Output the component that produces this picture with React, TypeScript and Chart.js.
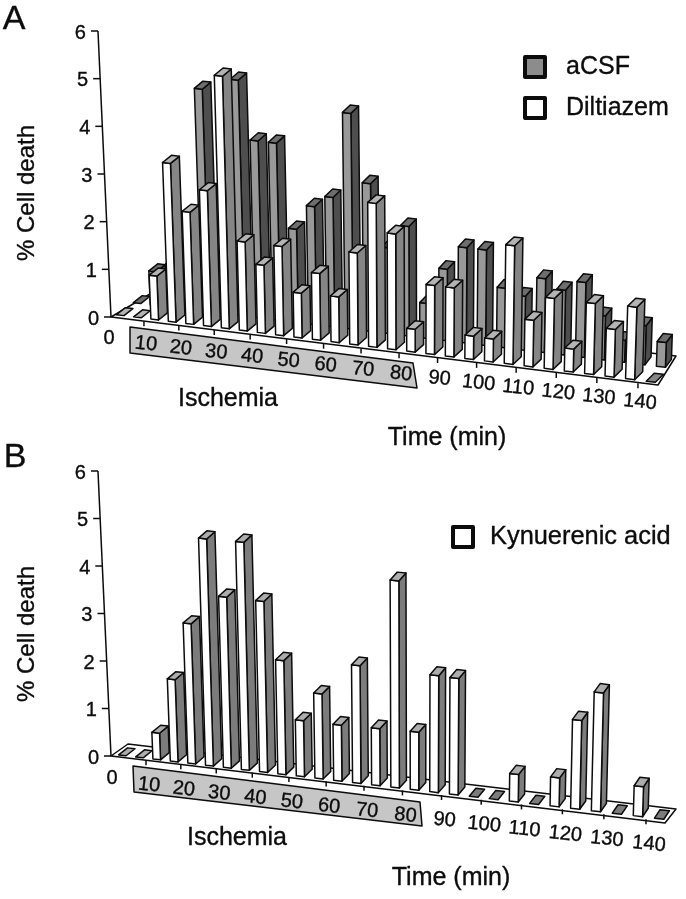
import React, { useEffect, useRef } from "react";
import { Chart, registerables, BarController } from "chart.js";

// ---------- data ----------
const SLOT_MINUTES = ["0","5","10","15","20","25","30","35","40","45","50","55","60","65","70","75","80","85","90","95","100","105","110","115","120","125","130","135","140"];
const ACSF = [0,0.71,0.9,1.6,4.67,2.4,4.95,3.72,3.72,1.96,2.48,2.72,4.53,3.1,1.8,2.3,0.73,1.5,2.0,2.0,1.25,1.13,1.55,1.36,1.57,0.92,0.46,0.82,0.52];
const DILTIAZEM = [0,0,0.92,3.33,2.35,2.85,5.3,1.87,1.43,1.87,0.94,1.4,0.96,1.93,3.02,2.43,0.48,1.45,1.45,0.49,0.48,2.49,0.98,1.49,0.48,1.49,1.0,1.52,0];
const KYNURENIC = [0,0,0.56,1.73,2.95,4.78,3.6,4.8,3.6,2.4,1.18,1.79,1.18,2.48,1.2,4.36,1.22,2.46,2.45,0,0,0.58,0,0.61,1.87,2.5,0,0.63,0];
const TIME_TICKS = [10,20,30,40,50,60,70,80,90,100,110,120,130,140];

const FONT = '"Liberation Sans", Arial, sans-serif';
const INK = "#0c0c0c";
const lerp = (a: number, b: number, t: number) => a + (b - a) * t;
const U_MAX = 14.5;

type Style = { front: string; side: string; top: string; ox: [number, number]; oy: [number, number]; sx: [number, number]; sy: [number, number] };

const PANEL_A = {
  letter: "A", letterPos: [14, 20],
  x0: 111, y0: 317, y6: 31, lean: [-2.17, 1.6], slope: 0.1255,
  a: 109.6, b: 34.1, c: 0.26,
  floor: [[111, 317], [150, 294], [676, 356], [658, 385]],
  band: [[130, 327], [413, 363], [417, 388], [130, 353]],
  labelDy: [23, 19], labelDx: 2, zero: [109, 338],
  ischemia: [228, 399], time: [447, 438], ylabel: [27, 193],
  legend: [
    { text: "aCSF", box: [523, 55], fill: "#8c8c8c", tx: 566, ty: 67, size: 25 },
    { text: "Diltiazem", box: [523, 96], fill: "#ffffff", tx: 566, ty: 108, size: 25 },
  ],
};
const PANEL_B = {
  letter: "B", letterPos: [15, 458],
  x0: 111, y0: 756, y6: 471, lean: [-2.17, 1.6], slope: 0.118,
  a: 111.8, b: 33.9, c: 0.304,
  floor: [[111, 756], [128, 744], [676, 809], [665, 823]],
  band: [[133, 766], [420, 802], [422, 826], [134, 792]],
  labelDy: [25, 25], labelDx: 3, zero: [112, 778],
  ischemia: [237, 838], time: [451, 878], ylabel: [27, 634],
  legend: [{ text: "Kynuerenic acid", box: [451, 525], fill: "#ffffff", tx: 490, ty: 537, size: 25.4 }],
};

const WHITE_A: Style = { front: "#ffffff", side: "#858585", top: "#b4b4b4", ox: [0, 0], oy: [-3, -3], sx: [9, 8], sy: [-7, -8] };
const GREY_A: Style = { front: "#999999", side: "#4e4e4e", top: "#6e6e6e", ox: [17, 10], oy: [-15, -18], sx: [9, 6], sy: [-7, -8] };
const WHITE_B: Style = { front: "#ffffff", side: "#7c7c7c", top: "#adadad", ox: [0, 0], oy: [-2, -2], sx: [9, 5.5], sy: [-7, -8.5] };

function project(p: any, u: number, heightPx: number, st: Style, depth: number) {
  const t = u / U_MAX;
  const bx = p.a + p.b * u + p.c * u * u;
  const by = p.y0 + p.slope * (bx - p.x0);
  const unit = (p.y0 - p.y6) / 6;
  const lean = lerp(p.lean[0], p.lean[1], t) * (heightPx / unit);
  return [
    bx + lerp(st.ox[0], st.ox[1], t) + lean + depth * lerp(st.sx[0], st.sx[1], t),
    by + lerp(st.oy[0], st.oy[1], t) - heightPx + depth * lerp(st.sy[0], st.sy[1], t),
  ];
}

function poly(ctx: CanvasRenderingContext2D, pts: number[][], fill: string | null, lw = 1.5) {
  ctx.beginPath();
  pts.forEach((q, i) => (i ? ctx.lineTo(q[0], q[1]) : ctx.moveTo(q[0], q[1])));
  ctx.closePath();
  if (fill) {
    ctx.fillStyle = fill;
    ctx.fill();
  }
  ctx.lineWidth = lw;
  ctx.strokeStyle = INK;
  ctx.lineJoin = "round";
  ctx.stroke();
}

class Bar3DController extends (BarController as any) {
  static id = "bar3d";
  draw() {
    const chart = (this as any).chart;
    const ctx = chart.ctx as CanvasRenderingContext2D;
    const meta = (this as any)._cachedMeta;
    const ds = chart.data.datasets[(this as any).index];
    const { panel, look } = ds;
    const area = chart.chartArea;
    const toU = (px: number) => ((px - area.left) / area.width) * U_MAX;
    meta.data.forEach((el: any) => {
      const uc = toU(el.x) + 0.06;
      const half = (el.width / area.width) * U_MAX * 0.5;
      const l = uc - half;
      const r = uc + half;
      const h = el.base - el.y;
      const fb = project(panel, l, 0, look, 0);
      const rb = project(panel, r, 0, look, 0);
      const ft = project(panel, l, h, look, 0);
      const rt = project(panel, r, h, look, 0);
      const rbb = project(panel, r, 0, look, 1);
      const rtb = project(panel, r, h, look, 1);
      const ftb = project(panel, l, h, look, 1);
      if (h > 0.5) {
        poly(ctx, [rb, rbb, rtb, rt], look.side);
        poly(ctx, [fb, rb, rt, ft], look.front);
        poly(ctx, [ft, rt, rtb, ftb], look.top);
      } else {
        // a zero value leaves only its flat footprint on the floor
        poly(ctx, [ft, rt, rtb, ftb], uc < 2 ? look.top : look.side);
      }
    });
  }
}

function framePlugin(p: any) {
  const text = (ctx: CanvasRenderingContext2D, s: string, x: number, y: number, size: number, rot = 0, align: CanvasTextAlign = "center") => {
    ctx.save();
    ctx.translate(x, y);
    ctx.rotate(rot);
    ctx.font = `${size}px ${FONT}`;
    ctx.fillStyle = INK;
    ctx.strokeStyle = INK;
    ctx.lineWidth = 0.35;
    ctx.textAlign = align;
    ctx.textBaseline = "middle";
    ctx.fillText(s, 0, 0);
    ctx.strokeText(s, 0, 0);
    ctx.restore();
  };
  return {
    id: "frame",
    beforeDatasetsDraw(chart: any) {
      const ctx = chart.ctx as CanvasRenderingContext2D;
      const { y: yS, time: tS } = chart.scales;
      const area = chart.chartArea;
      poly(ctx, p.floor, "#ffffff", 1.5);
      poly(ctx, p.band, "#c6c6c6", 1.5);

      // vertical axis, leaning with the scene
      const ax = (v: number) => p.x0 + p.lean[0] * v;
      ctx.strokeStyle = INK;
      ctx.lineWidth = 1.5;
      ctx.beginPath();
      ctx.moveTo(ax(0), yS.getPixelForValue(0));
      ctx.lineTo(ax(6), yS.getPixelForValue(6));
      ctx.stroke();
      yS.ticks.forEach((tk: any) => {
        const y = yS.getPixelForValue(tk.value);
        const x = ax(tk.value);
        ctx.strokeStyle = INK;
        ctx.lineWidth = 1.5;
        ctx.beginPath();
        ctx.moveTo(x - 7, y);
        ctx.lineTo(x, y);
        ctx.stroke();
        text(ctx, String(tk.value), x - 12, y + 2, 20, 0, "right");
      });

      // time ticks along the slanted front edge
      TIME_TICKS.forEach((m, i) => {
        const u = ((tS.getPixelForValue(m) - area.left) / area.width) * U_MAX;
        const x = p.a + p.b * u + p.c * u * u;
        const y = p.y0 + p.slope * (x - p.x0);
        ctx.strokeStyle = INK;
        ctx.lineWidth = 1.5;
        ctx.beginPath();
        ctx.moveTo(x, y);
        ctx.lineTo(x, y + 5);
        ctx.stroke();
        const dy = lerp(p.labelDy[0], p.labelDy[1], i / (TIME_TICKS.length - 1));
        text(ctx, String(m), x + p.labelDx, y + dy, 20, 0.1);
      });
      text(ctx, "0", p.zero[0], p.zero[1], 20);
      text(ctx, "Ischemia", p.ischemia[0], p.ischemia[1], 25);
      text(ctx, "Time (min)", p.time[0], p.time[1], 25);
      text(ctx, "% Cell death", p.ylabel[0], p.ylabel[1], 24, -Math.PI / 2);
      text(ctx, p.letter, p.letterPos[0], p.letterPos[1], 34);
      p.legend.forEach((it: any) => {
        ctx.fillStyle = it.fill;
        ctx.fillRect(it.box[0] + 2, it.box[1] + 2, 20, 20);
        ctx.strokeStyle = INK;
        ctx.lineWidth = 4;
        ctx.strokeRect(it.box[0] + 2, it.box[1] + 2, 20, 20);
        text(ctx, it.text, it.tx, it.ty, it.size, 0, "left");
      });
    },
  };
}

const W = 686;
const H = 899;

function makeChart(canvas: HTMLCanvasElement, panel: any, datasets: any[]) {
  return new Chart(canvas, {
    type: "bar3d" as any,
    data: { labels: SLOT_MINUTES, datasets },
    plugins: [framePlugin(panel)],
    options: {
      responsive: false,
      animation: false,
      devicePixelRatio: 1,
      layout: { padding: { left: panel.x0, right: W - panel.x0 - 510, top: panel.y6, bottom: H - panel.y0 } },
      scales: {
        x: { type: "category", display: false, offset: true },
        time: { type: "linear", axis: "x", display: false, min: 0, max: 145, offset: false },
        y: { type: "linear", display: false, min: 0, max: 6, ticks: { stepSize: 1 } },
      },
      plugins: { legend: { display: false }, tooltip: { enabled: false }, title: { display: false } },
    } as any,
  });
}

const series = (label: string, data: number[], panel: any, look: Style, order: number) => ({
  label, data, panel, look, order,
  grouped: false, barPercentage: 0.44, categoryPercentage: 1, clip: false,
  xAxisID: "x", yAxisID: "y", backgroundColor: look.front,
});

export default function App() {
  const a = useRef<HTMLCanvasElement>(null);
  const b = useRef<HTMLCanvasElement>(null);
  useEffect(() => {
    Chart.register(...registerables, Bar3DController as any);
    const ca = makeChart(a.current!, PANEL_A, [
      series("aCSF", ACSF, PANEL_A, GREY_A, 2),
      series("Diltiazem", DILTIAZEM, PANEL_A, WHITE_A, 1),
    ]);
    const cb = makeChart(b.current!, PANEL_B, [series("Kynurenic acid", KYNURENIC, PANEL_B, WHITE_B, 1)]);
    return () => {
      ca.destroy();
      cb.destroy();
    };
  }, []);
  const st: React.CSSProperties = { position: "absolute", left: 0, top: 0 };
  return (
    <div style={{ position: "absolute", left: 0, top: 0, width: W, height: H, background: "#fff", overflow: "hidden" }}>
      <canvas ref={a} width={W} height={H} style={st} />
      <canvas ref={b} width={W} height={H} style={st} />
    </div>
  );
}
